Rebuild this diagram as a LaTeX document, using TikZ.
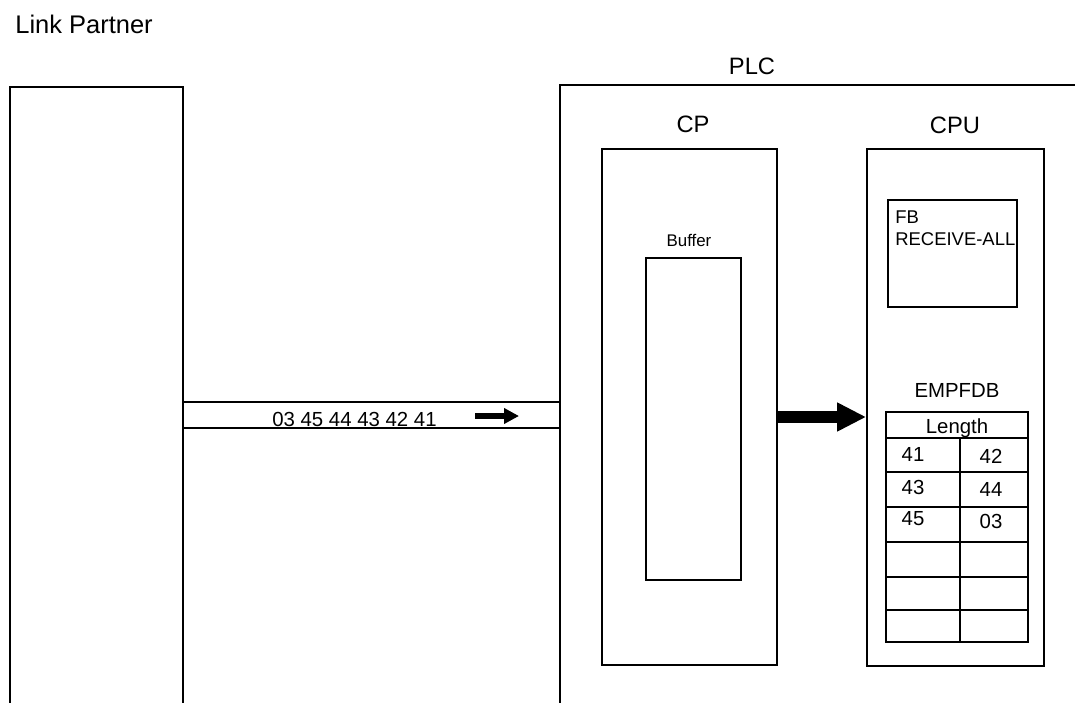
\documentclass[tikz,border=0pt]{standalone}
\usepackage{fontspec}
\setmainfont{Liberation Sans}
\usetikzlibrary{fit,arrows.meta}

\begin{document}
\begin{tikzpicture}[x=0.02cm,y=-0.02cm,
		box/.style={draw, line width=1pt, inner sep=0pt},
		lbl/.style={anchor=base, inner sep=0pt},
		big/.style={font=\fontsize{13.5}{16}\selectfont},
		mid/.style={font=\fontsize{11.6}{14}\selectfont},
		sml/.style={font=\fontsize{10.5}{12}\selectfont}]
			\useasboundingbox (0,0) rectangle (1075,703);
			\node[lbl, anchor=base west, font=\fontsize{14.5}{17}\selectfont] (tlp) at (15,33) {Link Partner};
			\node[lbl, big] (tplc) at (752,74) {PLC};
			% open boxes run past the page edge
			\node[box, fit={(10,87) (183,720)}] (lp) {};
			\node[box, fit={(560,85) (1100,720)}] (plc) {};
			\node[box, fit={(602,149) (777,665)}] (cp) {};
			\node[box, fit={(646,258) (741,580)}] (buf) {};
			\node[box, fit={(867,149) (1044,666)}] (cpu) {};
			\node[box, fit={(888,200) (1017,307)}] (fb) {};
			\node[box, fit={(886,412) (1028,642)}] (tab) {};
			\node[lbl, big] (tcp) at (693,132) {CP};
			\node[lbl, big] (tcpu) at (955,133) {CPU};
			\node[lbl, font=\fontsize{9.6}{11}\selectfont] (tbuf) at (689,246) {Buffer};
			\node[lbl, sml, anchor=base west] (tfb) at (895,223) {FB};
			\node[lbl, sml, anchor=base west] (trcv) at (895,245) {RECEIVE-ALL};
			\node[lbl, mid] (temp) at (957,397) {EMPFDB};
			% channel
			\draw[line width=1pt] (lp.east |- 0,402) -- (plc.west |- 0,402);
			\draw[line width=1pt] (lp.east |- 0,428) -- (plc.west |- 0,428);
			\node[lbl, mid, anchor=base west] (tdata) at (272,426) {03 45 44 43 42 41};
			\coordinate (a1) at (475,416);
			\coordinate (a2) at (519,416);
			\draw[line width=0.11cm, -{Triangle[length=0.3cm, width=0.3cm]}] (a1) -- (a2);
			\draw[line width=0.24cm, -{Triangle[length=0.58cm, width=0.54cm]}] (cp.east |- 0,417) -- (cpu.west |- 0,417);
			% EMPFDB table
			\foreach \y in {438,472,507,542,577,610}
				\draw[line width=1pt] (tab.west |- 0,\y) -- (tab.east |- 0,\y);
			\draw[line width=1pt] (960,438) -- (tab.south -| 960,0);
			\node[lbl, mid] (tlen) at (957,433) {Length};
			\node[lbl, mid] (c41) at (913,461) {41};
			\node[lbl, mid] (c42) at (991,463) {42};
			\node[lbl, mid] (c43) at (913,494) {43};
			\node[lbl, mid] (c44) at (991,496) {44};
			\node[lbl, mid] (c45) at (913,525) {45};
			\node[lbl, mid] (c03) at (991,528) {03};
		\end{tikzpicture}
\end{document}
